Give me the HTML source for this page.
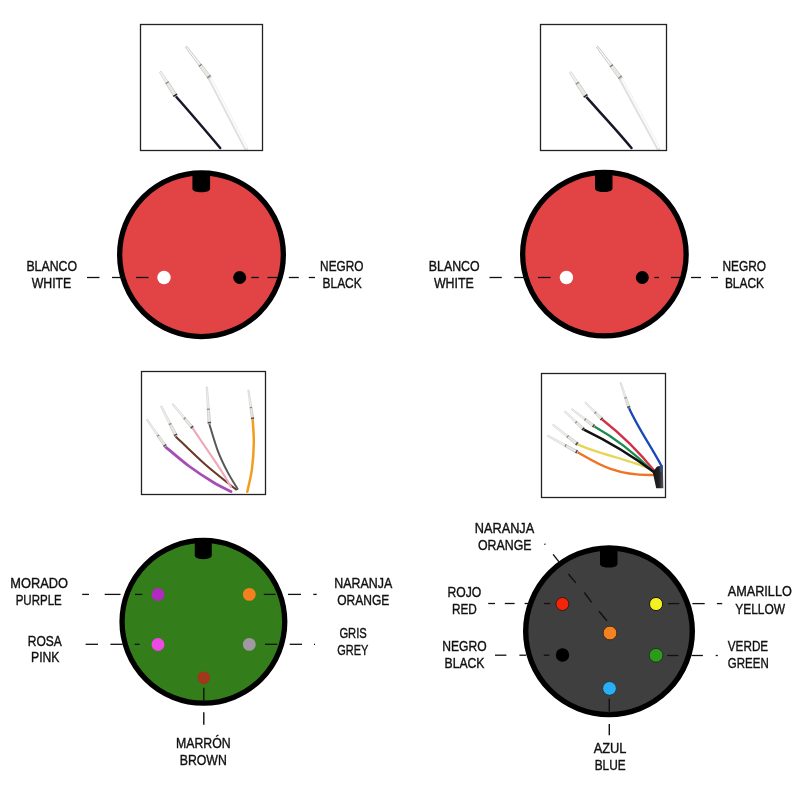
<!DOCTYPE html>
<html><head><meta charset="utf-8"><title>Connector wiring</title>
<style>html,body{margin:0;padding:0;background:#fff;width:800px;height:800px;overflow:hidden}svg{display:block;will-change:transform}</style>
</head><body><svg width="800" height="800" viewBox="0 0 800 800"><path d="M176.2,96.7 C186,108 200,124 220.2,148" fill="none" stroke="#17172c" stroke-width="2.5" stroke-linecap="round"/><path d="M159.27,72.29 L166.04,83.52 L168.40,82.02 L161.13,71.11 Z" fill="#f1f1ee" stroke="#c2c2bc" stroke-width="0.5" stroke-linejoin="round"/><path d="M165.47,83.19 L174.11,97.37 L177.49,95.23 L168.34,81.37 Z" fill="#e8e8e4" stroke="#b0b0aa" stroke-width="0.5" stroke-linejoin="round"/><line x1="165.70" y1="83.73" x2="168.74" y2="81.81" stroke="#777" stroke-width="1.1" opacity="0.85"/><line x1="173.32" y1="96.49" x2="177.03" y2="94.14" stroke="#222" stroke-width="1.5"/><path d="M209.5,78 L246,148.5" fill="none" stroke="#e0e0e0" stroke-width="4.0" stroke-linecap="round"/><path d="M210.3,77.7 L246.8,148.2" stroke="#fbfbfb" stroke-width="1.9" fill="none"/><path d="M185.48,47.35 L199.41,66.13 L201.31,64.67 L186.92,46.25 Z" fill="#fbfbfb" stroke="#9c9c98" stroke-width="0.55" stroke-linejoin="round"/><path d="M198.61,65.75 L208.29,78.95 L211.31,76.65 L201.16,63.81 Z" fill="#e8e8e4" stroke="#b0b0aa" stroke-width="0.5" stroke-linejoin="round"/><line x1="199.01" y1="66.43" x2="201.71" y2="64.37" stroke="#555" stroke-width="1.1" opacity="0.85"/><line x1="207.19" y1="77.83" x2="210.53" y2="75.29" stroke="#8a8a86" stroke-width="1.5"/><path d="M586.5,97.2 C596,108 615,128 631.5,148" fill="none" stroke="#17172c" stroke-width="2.5" stroke-linecap="round"/><path d="M569.28,72.80 L576.23,84.03 L578.57,82.51 L571.12,71.60 Z" fill="#f1f1ee" stroke="#c2c2bc" stroke-width="0.5" stroke-linejoin="round"/><path d="M575.65,83.70 L584.52,97.89 L587.88,95.71 L578.51,81.85 Z" fill="#e8e8e4" stroke="#b0b0aa" stroke-width="0.5" stroke-linejoin="round"/><line x1="575.89" y1="84.25" x2="578.91" y2="82.29" stroke="#777" stroke-width="1.1" opacity="0.85"/><line x1="583.72" y1="97.02" x2="587.40" y2="94.62" stroke="#222" stroke-width="1.5"/><path d="M620.5,78.7 L658.4,148.5" fill="none" stroke="#e0e0e0" stroke-width="4.0" stroke-linecap="round"/><path d="M621.3,78.4 L659.2,148.2" stroke="#fbfbfb" stroke-width="1.9" fill="none"/><path d="M596.48,47.34 L610.52,66.54 L612.44,65.10 L597.92,46.26 Z" fill="#fbfbfb" stroke="#9c9c98" stroke-width="0.55" stroke-linejoin="round"/><path d="M609.72,66.15 L619.48,79.64 L622.52,77.36 L612.28,64.23 Z" fill="#e8e8e4" stroke="#b0b0aa" stroke-width="0.5" stroke-linejoin="round"/><line x1="610.12" y1="66.84" x2="612.84" y2="64.80" stroke="#555" stroke-width="1.1" opacity="0.85"/><line x1="618.37" y1="78.49" x2="621.73" y2="75.97" stroke="#8a8a86" stroke-width="1.5"/><path d="M165.20,446.60 C169.13,449.83 180.80,460.07 188.80,466.00 C196.80,471.93 206.17,477.95 213.20,482.20 C220.23,486.45 228.03,489.95 231.00,491.50" fill="none" stroke="#a44eb6" stroke-width="2.8" stroke-linecap="round"/><path d="M175.60,436.40 C180.50,441.05 194.93,455.45 205.00,464.30 C215.07,473.15 230.83,485.30 236.00,489.50" fill="none" stroke="#6a3a28" stroke-width="2.1" stroke-linecap="round"/><path d="M192.40,427.90 C195.05,431.80 203.48,444.15 208.30,451.30 C213.12,458.45 217.52,464.85 221.30,470.80 C225.08,476.75 229.38,484.30 231.00,487.00" fill="none" stroke="#f0a8b8" stroke-width="2.1" stroke-linecap="round"/><path d="M209.40,424.20 C210.83,428.72 214.93,443.27 218.00,451.30 C221.07,459.33 224.53,466.12 227.80,472.40 C231.07,478.68 235.97,486.23 237.60,489.00" fill="none" stroke="#585858" stroke-width="2.0" stroke-linecap="round"/><path d="M252.70,419.40 C252.88,423.33 253.93,434.67 253.80,443.00 C253.67,451.33 252.98,461.28 251.90,469.40 C250.82,477.52 248.07,487.98 247.30,491.70" fill="none" stroke="#f29c22" stroke-width="2.5" stroke-linecap="round"/><path d="M146.22,419.80 L157.26,436.23 L158.90,435.09 L147.38,419.00 Z" fill="#f1f1ee" stroke="#c2c2bc" stroke-width="0.5" stroke-linejoin="round"/><path d="M156.80,435.74 L164.45,447.30 L166.75,445.70 L158.61,434.49 Z" fill="#e8e8e4" stroke="#b0b0aa" stroke-width="0.5" stroke-linejoin="round"/><line x1="157.09" y1="436.34" x2="159.07" y2="434.98" stroke="#777" stroke-width="1.1" opacity="0.85"/><line x1="163.53" y1="446.33" x2="166.16" y2="444.50" stroke="#4a4a4a" stroke-width="1.5"/><path d="M160.53,406.54 L169.20,424.55 L171.08,423.61 L161.87,405.86 Z" fill="#f1f1ee" stroke="#c2c2bc" stroke-width="0.5" stroke-linejoin="round"/><path d="M168.77,424.02 L174.76,436.67 L177.44,435.33 L170.92,422.95 Z" fill="#e8e8e4" stroke="#b0b0aa" stroke-width="0.5" stroke-linejoin="round"/><line x1="168.98" y1="424.66" x2="171.30" y2="423.50" stroke="#777" stroke-width="1.1" opacity="0.85"/><line x1="173.98" y1="435.57" x2="177.02" y2="434.05" stroke="#4a4a4a" stroke-width="1.5"/><path d="M172.06,404.45 L183.89,419.10 L185.43,417.82 L173.14,403.55 Z" fill="#f1f1ee" stroke="#c2c2bc" stroke-width="0.5" stroke-linejoin="round"/><path d="M183.41,418.68 L191.62,429.00 L193.78,427.20 L185.10,417.27 Z" fill="#e8e8e4" stroke="#b0b0aa" stroke-width="0.5" stroke-linejoin="round"/><line x1="183.74" y1="419.23" x2="185.58" y2="417.69" stroke="#777" stroke-width="1.1" opacity="0.85"/><line x1="190.67" y1="428.16" x2="193.12" y2="426.11" stroke="#4a4a4a" stroke-width="1.5"/><path d="M206.10,387.05 L207.36,409.39 L209.36,409.25 L207.50,386.95 Z" fill="#f1f1ee" stroke="#c2c2bc" stroke-width="0.5" stroke-linejoin="round"/><path d="M207.21,408.65 L208.00,424.30 L210.80,424.10 L209.41,408.50 Z" fill="#e8e8e4" stroke="#b0b0aa" stroke-width="0.5" stroke-linejoin="round"/><line x1="207.16" y1="409.40" x2="209.56" y2="409.24" stroke="#777" stroke-width="1.1" opacity="0.85"/><line x1="207.70" y1="422.82" x2="210.89" y2="422.60" stroke="#4a4a4a" stroke-width="1.5"/><path d="M247.76,390.09 L250.04,407.78 L251.92,407.50 L249.04,389.91 Z" fill="#f1f1ee" stroke="#c2c2bc" stroke-width="0.5" stroke-linejoin="round"/><path d="M249.90,407.20 L251.41,419.59 L253.99,419.21 L251.88,406.91 Z" fill="#e8e8e4" stroke="#b0b0aa" stroke-width="0.5" stroke-linejoin="round"/><line x1="249.89" y1="407.80" x2="252.07" y2="407.48" stroke="#777" stroke-width="1.1" opacity="0.85"/><line x1="251.04" y1="418.44" x2="254.01" y2="418.01" stroke="#6a4a2a" stroke-width="1.5"/><path d="M629,408 C638,428 652,448 661.5,466" fill="none" stroke="#1a48b8" stroke-width="2.3" stroke-linecap="round"/><path d="M577.7,444.4 C598,454 628,459 651.5,469.5" fill="none" stroke="#e6d658" stroke-width="2.4" stroke-linecap="round"/><path d="M577.7,452.3 C598,464 616,476 653,475" fill="none" stroke="#ee7424" stroke-width="2.4" stroke-linecap="round"/><path d="M602.2,419.5 Q631,442 654.5,471" fill="none" stroke="#d23048" stroke-width="2.3" stroke-linecap="round"/><path d="M594.4,426.5 Q624,443 652.5,471" fill="none" stroke="#1c8c50" stroke-width="2.3" stroke-linecap="round"/><path d="M583.9,429.6 Q622,448 654.5,472.5" fill="none" stroke="#111111" stroke-width="2.5" stroke-linecap="round"/><defs><linearGradient id="sh" x1="0" y1="0" x2="1" y2="0"><stop offset="0" stop-color="#141416"/><stop offset="0.6" stop-color="#222226"/><stop offset="1" stop-color="#55575c"/></linearGradient></defs><path d="M652.7,472 L657.1,466.4 L662.8,465.5 L663.4,488.3 L656.2,488.3 Z" fill="url(#sh)"/><path d="M659.5,466 L662.8,465.5 L663,472 L660,472 Z" fill="#34508a" opacity="0.8"/><path d="M619.88,382.71 L624.70,398.10 L626.50,397.50 L621.12,382.29 Z" fill="#f1f1ee" stroke="#c2c2bc" stroke-width="0.5" stroke-linejoin="round"/><path d="M624.48,397.61 L627.77,408.41 L630.23,407.59 L626.38,396.97 Z" fill="#e8e8e4" stroke="#b0b0aa" stroke-width="0.5" stroke-linejoin="round"/><line x1="624.56" y1="398.15" x2="626.64" y2="397.45" stroke="#777" stroke-width="1.1" opacity="0.85"/><line x1="627.24" y1="407.45" x2="630.08" y2="406.51" stroke="#4a4a4a" stroke-width="1.5"/><path d="M584.70,402.89 L594.69,413.37 L596.11,411.95 L585.70,401.91 Z" fill="#f1f1ee" stroke="#c2c2bc" stroke-width="0.5" stroke-linejoin="round"/><path d="M594.28,413.09 L601.21,420.49 L603.19,418.51 L595.84,411.54 Z" fill="#e8e8e4" stroke="#b0b0aa" stroke-width="0.5" stroke-linejoin="round"/><line x1="594.55" y1="413.51" x2="596.25" y2="411.81" stroke="#777" stroke-width="1.1" opacity="0.85"/><line x1="600.39" y1="419.94" x2="602.65" y2="417.69" stroke="#5a3030" stroke-width="1.5"/><path d="M571.17,409.56 L584.67,420.29 L585.89,418.71 L572.03,408.44 Z" fill="#f1f1ee" stroke="#c2c2bc" stroke-width="0.5" stroke-linejoin="round"/><path d="M584.15,420.02 L593.55,427.61 L595.25,425.39 L585.49,418.28 Z" fill="#e8e8e4" stroke="#b0b0aa" stroke-width="0.5" stroke-linejoin="round"/><line x1="584.55" y1="420.45" x2="586.01" y2="418.55" stroke="#777" stroke-width="1.1" opacity="0.85"/><line x1="592.51" y1="427.07" x2="594.46" y2="424.53" stroke="#4a4a4a" stroke-width="1.5"/><path d="M564.12,411.71 L575.49,422.96 L576.87,421.52 L565.08,410.69 Z" fill="#f1f1ee" stroke="#c2c2bc" stroke-width="0.5" stroke-linejoin="round"/><path d="M575.03,422.67 L582.93,430.61 L584.87,428.59 L576.55,421.08 Z" fill="#e8e8e4" stroke="#b0b0aa" stroke-width="0.5" stroke-linejoin="round"/><line x1="575.35" y1="423.11" x2="577.01" y2="421.37" stroke="#777" stroke-width="1.1" opacity="0.85"/><line x1="582.02" y1="430.02" x2="584.23" y2="427.71" stroke="#222" stroke-width="1.5"/><path d="M552.33,425.29 L567.09,437.34 L568.39,435.70 L553.27,424.11 Z" fill="#f1f1ee" stroke="#c2c2bc" stroke-width="0.5" stroke-linejoin="round"/><path d="M566.50,437.07 L576.77,445.58 L578.63,443.22 L567.99,435.18 Z" fill="#e8e8e4" stroke="#b0b0aa" stroke-width="0.5" stroke-linejoin="round"/><line x1="566.93" y1="437.54" x2="568.55" y2="435.50" stroke="#777" stroke-width="1.1" opacity="0.85"/><line x1="575.65" y1="444.95" x2="577.76" y2="442.28" stroke="#4a4a4a" stroke-width="1.5"/><path d="M547.24,436.36 L565.15,446.58 L566.17,444.74 L547.96,435.04 Z" fill="#f1f1ee" stroke="#c2c2bc" stroke-width="0.5" stroke-linejoin="round"/><path d="M564.48,446.38 L576.98,453.61 L578.42,450.99 L565.64,444.28 Z" fill="#e8e8e4" stroke="#b0b0aa" stroke-width="0.5" stroke-linejoin="round"/><line x1="565.03" y1="446.80" x2="566.29" y2="444.52" stroke="#777" stroke-width="1.1" opacity="0.85"/><line x1="575.68" y1="453.12" x2="577.32" y2="450.15" stroke="#4a4a4a" stroke-width="1.5"/><rect x="140.5" y="24.5" width="122" height="126" fill="none" stroke="#222" stroke-width="1.3"/><rect x="540.5" y="24.5" width="126" height="126" fill="none" stroke="#222" stroke-width="1.3"/><rect x="141.5" y="371.5" width="124" height="123" fill="none" stroke="#222" stroke-width="1.3"/><rect x="541.5" y="373.5" width="124" height="124" fill="none" stroke="#222" stroke-width="1.3"/><circle cx="201.5" cy="254.7" r="81.85" fill="#E24446" stroke="#000" stroke-width="5.3"/><path d="M192.4,171.2 L210.1,171.2 L210.1,188.70000000000002 C210.1,193.50 192.4,193.50 192.4,188.70000000000002 Z" fill="#000"/><circle cx="164" cy="277.5" r="6.7" fill="#fff"/><circle cx="239.7" cy="277.5" r="6.5" fill="#000"/><line x1="87" y1="277.5" x2="99.5" y2="277.5" stroke="#111" stroke-width="1.3"/><line x1="112" y1="277.5" x2="124.5" y2="277.5" stroke="#111" stroke-width="1.3"/><line x1="136" y1="277.5" x2="148.5" y2="277.5" stroke="#111" stroke-width="1.3"/><line x1="251.3" y1="277.5" x2="258.8" y2="277.5" stroke="#111" stroke-width="1.3"/><line x1="267.5" y1="277.5" x2="277.5" y2="277.5" stroke="#111" stroke-width="1.3"/><line x1="288.8" y1="277.5" x2="298.8" y2="277.5" stroke="#111" stroke-width="1.3"/><line x1="308.8" y1="277.5" x2="315" y2="277.5" stroke="#111" stroke-width="1.3"/><circle cx="604.4" cy="254.2" r="81.75" fill="#E24446" stroke="#000" stroke-width="5.3"/><path d="M595,170.79999999999998 L612.5,170.79999999999998 L612.5,188.4 C612.5,193.20 595,193.20 595,188.4 Z" fill="#000"/><circle cx="566.4" cy="277.5" r="6.7" fill="#fff"/><circle cx="642.3" cy="277.5" r="6.5" fill="#000"/><line x1="489.5" y1="277.5" x2="501.8" y2="277.5" stroke="#111" stroke-width="1.3"/><line x1="514.2" y1="277.5" x2="526.5" y2="277.5" stroke="#111" stroke-width="1.3"/><line x1="538" y1="277.5" x2="550.6" y2="277.5" stroke="#111" stroke-width="1.3"/><line x1="654.4" y1="277.5" x2="659" y2="277.5" stroke="#111" stroke-width="1.3"/><line x1="671" y1="277.5" x2="681" y2="277.5" stroke="#111" stroke-width="1.3"/><line x1="691" y1="277.5" x2="701" y2="277.5" stroke="#111" stroke-width="1.3"/><line x1="711" y1="277.5" x2="718" y2="277.5" stroke="#111" stroke-width="1.3"/><circle cx="203.4" cy="621.8" r="81.35" fill="#337E1B" stroke="#000" stroke-width="5.3"/><path d="M194.75,538.8 L211.75,538.8 L211.75,555.6 C211.75,560.40 194.75,560.40 194.75,555.6 Z" fill="#000"/><circle cx="158" cy="594.5" r="6.4" fill="#b02ac0"/><circle cx="249.3" cy="594.4" r="6.4" fill="#f5801e"/><circle cx="158" cy="644.5" r="6.4" fill="#f048e8"/><circle cx="249.3" cy="644.4" r="6.4" fill="#a098a2"/><circle cx="203.8" cy="677.8" r="6.4" fill="#a0381c"/><line x1="82.2" y1="594.4" x2="89" y2="594.4" stroke="#111" stroke-width="1.3"/><line x1="104.7" y1="594.4" x2="120.5" y2="594.4" stroke="#111" stroke-width="1.3"/><line x1="135" y1="594.4" x2="142.3" y2="594.4" stroke="#111" stroke-width="1.3"/><line x1="85.6" y1="644.3" x2="98" y2="644.3" stroke="#111" stroke-width="1.3"/><line x1="110.4" y1="644.3" x2="122.7" y2="644.3" stroke="#111" stroke-width="1.3"/><line x1="134.7" y1="644.3" x2="139.6" y2="644.3" stroke="#111" stroke-width="1.3"/><line x1="263.8" y1="594.4" x2="275.5" y2="594.4" stroke="#111" stroke-width="1.3"/><line x1="288" y1="594.4" x2="301" y2="594.4" stroke="#111" stroke-width="1.3"/><line x1="313.3" y1="594.4" x2="316.7" y2="594.4" stroke="#111" stroke-width="1.3"/><line x1="265" y1="644.3" x2="277.3" y2="644.3" stroke="#111" stroke-width="1.3"/><line x1="289.7" y1="644.3" x2="302" y2="644.3" stroke="#111" stroke-width="1.3"/><line x1="314" y1="644.3" x2="315" y2="644.3" stroke="#111" stroke-width="1.3"/><line x1="203.8" y1="687.7" x2="203.8" y2="702" stroke="#111" stroke-width="1.4"/><line x1="203.8" y1="712.2" x2="203.8" y2="724.8" stroke="#111" stroke-width="1.4"/><circle cx="609" cy="631.3" r="83.30" fill="#3f3f3f" stroke="#000" stroke-width="5.4"/><path d="M600,546.3 L617.5,546.3 L617.5,563.9 C617.5,568.70 600,568.70 600,563.9 Z" fill="#000"/><circle cx="562.4" cy="604.0" r="6.5" fill="#f42408" stroke="#3a1a14" stroke-width="1.0"/><circle cx="656.1" cy="604.0" r="6.6" fill="#f2f01e" stroke="#161608" stroke-width="1.0"/><circle cx="610" cy="633" r="6.9" fill="#f58220" stroke="#3a2a20" stroke-width="1.0"/><circle cx="562.5" cy="655" r="6.7" fill="#000"/><circle cx="656.1" cy="655.3" r="6.9" fill="#2c9a1a" stroke="#1a3a1a" stroke-width="1.0"/><circle cx="609.5" cy="688.4" r="6.9" fill="#2aaef5" stroke="#20384a" stroke-width="1.0"/><line x1="488.2" y1="603.5" x2="495" y2="603.5" stroke="#111" stroke-width="1.3"/><line x1="504.8" y1="603.5" x2="514.6" y2="603.5" stroke="#111" stroke-width="1.3"/><line x1="524.6" y1="603.5" x2="530" y2="603.5" stroke="#111" stroke-width="1.3"/><line x1="543.8" y1="603.5" x2="550.3" y2="603.5" stroke="#111" stroke-width="1.3"/><line x1="495" y1="655.2" x2="506.4" y2="655.2" stroke="#111" stroke-width="1.3"/><line x1="519.4" y1="655.2" x2="526" y2="655.2" stroke="#111" stroke-width="1.3"/><line x1="543.8" y1="655.2" x2="549.5" y2="655.2" stroke="#111" stroke-width="1.3"/><line x1="668" y1="603.6" x2="679.3" y2="603.6" stroke="#111" stroke-width="1.3"/><line x1="692.4" y1="603.6" x2="704.7" y2="603.6" stroke="#111" stroke-width="1.3"/><line x1="716.9" y1="603.6" x2="722.2" y2="603.6" stroke="#111" stroke-width="1.3"/><line x1="667" y1="655.5" x2="678.4" y2="655.5" stroke="#111" stroke-width="1.3"/><line x1="691.5" y1="655.5" x2="702.9" y2="655.5" stroke="#111" stroke-width="1.3"/><line x1="715.7" y1="655.5" x2="717.8" y2="655.5" stroke="#111" stroke-width="1.3"/><line x1="609.3" y1="698.5" x2="609.3" y2="713" stroke="#111" stroke-width="1.4"/><line x1="609.3" y1="724" x2="609.3" y2="735.2" stroke="#111" stroke-width="1.4"/><line x1="544.6" y1="543.7" x2="545.3" y2="544.6" stroke="#111" stroke-width="1.4"/><line x1="553.1" y1="554.4" x2="559.6" y2="562.6" stroke="#111" stroke-width="1.4"/><line x1="568.4" y1="574" x2="575.8" y2="582.9" stroke="#111" stroke-width="1.4"/><line x1="584.3" y1="592.5" x2="591.6" y2="602.4" stroke="#111" stroke-width="1.4"/><line x1="599" y1="611.2" x2="606.9" y2="620.8" stroke="#111" stroke-width="1.4"/><g font-family="'Liberation Sans', Arial, sans-serif" fill="#111" stroke="#111" stroke-width="0.38" text-anchor="middle"><text x="51.70" y="270.90" font-size="14.39" textLength="50.60" lengthAdjust="spacingAndGlyphs">BLANCO</text><text x="51.50" y="287.90" font-size="14.39" textLength="39.60" lengthAdjust="spacingAndGlyphs">WHITE</text><text x="341.80" y="271.00" font-size="14.39" textLength="43.40" lengthAdjust="spacingAndGlyphs">NEGRO</text><text x="342.12" y="288.00" font-size="14.39" textLength="39.25" lengthAdjust="spacingAndGlyphs">BLACK</text><text x="454.23" y="270.80" font-size="14.39" textLength="50.75" lengthAdjust="spacingAndGlyphs">BLANCO</text><text x="453.90" y="287.70" font-size="14.39" textLength="40.00" lengthAdjust="spacingAndGlyphs">WHITE</text><text x="744.30" y="271.00" font-size="14.39" textLength="43.60" lengthAdjust="spacingAndGlyphs">NEGRO</text><text x="744.50" y="288.00" font-size="14.39" textLength="39.20" lengthAdjust="spacingAndGlyphs">BLACK</text><text x="39.15" y="588.00" font-size="14.39" textLength="57.70" lengthAdjust="spacingAndGlyphs">MORADO</text><text x="38.75" y="605.30" font-size="14.39" textLength="46.10" lengthAdjust="spacingAndGlyphs">PURPLE</text><text x="44.75" y="645.50" font-size="14.39" textLength="34.10" lengthAdjust="spacingAndGlyphs">ROSA</text><text x="45.25" y="661.70" font-size="14.39" textLength="28.50" lengthAdjust="spacingAndGlyphs">PINK</text><text x="363.20" y="588.20" font-size="14.39" textLength="58.00" lengthAdjust="spacingAndGlyphs">NARANJA</text><text x="363.25" y="605.00" font-size="14.39" textLength="52.10" lengthAdjust="spacingAndGlyphs">ORANGE</text><text x="353.10" y="638.40" font-size="14.39" textLength="27.40" lengthAdjust="spacingAndGlyphs">GRIS</text><text x="352.75" y="655.00" font-size="14.39" textLength="31.10" lengthAdjust="spacingAndGlyphs">GREY</text><text x="203.35" y="747.70" font-size="14.39" textLength="54.70" lengthAdjust="spacingAndGlyphs">MARRÓN</text><text x="203.25" y="764.60" font-size="14.39" textLength="47.10" lengthAdjust="spacingAndGlyphs">BROWN</text><text x="504.50" y="532.60" font-size="14.39" textLength="59.50" lengthAdjust="spacingAndGlyphs">NARANJA</text><text x="504.75" y="550.20" font-size="14.39" textLength="53.50" lengthAdjust="spacingAndGlyphs">ORANGE</text><text x="464.30" y="596.50" font-size="14.39" textLength="33.80" lengthAdjust="spacingAndGlyphs">ROJO</text><text x="464.35" y="614.00" font-size="14.39" textLength="24.90" lengthAdjust="spacingAndGlyphs">RED</text><text x="464.40" y="650.80" font-size="14.39" textLength="44.40" lengthAdjust="spacingAndGlyphs">NEGRO</text><text x="464.50" y="668.30" font-size="14.39" textLength="40.00" lengthAdjust="spacingAndGlyphs">BLACK</text><text x="759.80" y="596.40" font-size="14.39" textLength="64.00" lengthAdjust="spacingAndGlyphs">AMARILLO</text><text x="760.20" y="613.80" font-size="14.39" textLength="50.00" lengthAdjust="spacingAndGlyphs">YELLOW</text><text x="748.00" y="651.20" font-size="14.39" textLength="40.40" lengthAdjust="spacingAndGlyphs">VERDE</text><text x="748.25" y="668.40" font-size="14.39" textLength="40.90" lengthAdjust="spacingAndGlyphs">GREEN</text><text x="610.10" y="752.80" font-size="14.39" textLength="32.80" lengthAdjust="spacingAndGlyphs">AZUL</text><text x="610.20" y="769.70" font-size="14.39" textLength="31.00" lengthAdjust="spacingAndGlyphs">BLUE</text></g></svg></body></html>
